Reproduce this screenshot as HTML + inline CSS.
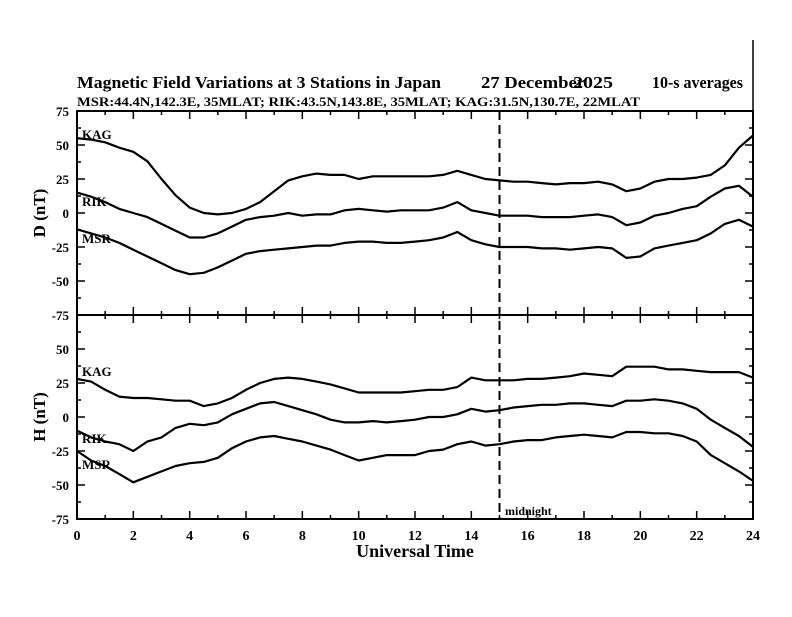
<!DOCTYPE html>
<html><head><meta charset="utf-8"><style>
body{margin:0;background:#fff}
svg text{font-family:"Liberation Serif",serif;font-weight:bold;fill:#000}
</style></head><body>
<svg id="c" width="792" height="612" viewBox="0 0 792 612">
<text x="77" y="88" font-size="17" textLength="364" lengthAdjust="spacingAndGlyphs" font-weight="normal">Magnetic Field Variations at 3 Stations in Japan</text>
<text x="481" y="88" font-size="17" textLength="104" lengthAdjust="spacingAndGlyphs" font-weight="normal">27 December</text>
<text x="573" y="88" font-size="17" textLength="40" lengthAdjust="spacingAndGlyphs" font-weight="normal">2025</text>
<text x="652" y="88" font-size="17" textLength="91" lengthAdjust="spacingAndGlyphs" font-weight="normal">10-s averages</text>
<text x="77" y="106" font-size="13" textLength="563" lengthAdjust="spacingAndGlyphs">MSR:44.4N,142.3E, 35MLAT;  RIK:43.5N,143.8E, 35MLAT;  KAG:31.5N,130.7E, 22MLAT</text>
<line x1="753" y1="40" x2="753" y2="111" stroke="#000" stroke-width="1.5"/>
<g id="axes"></g>
<g id="series"></g>
<text x="505" y="515" font-size="12">midnight</text>
<text x="415" y="557" font-size="18" text-anchor="middle" font-weight="normal">Universal Time</text>
<text transform="translate(45,213) rotate(-90)" font-size="17" text-anchor="middle" font-weight="normal">D (nT)</text>
<text transform="translate(45,417) rotate(-90)" font-size="17" text-anchor="middle" font-weight="normal">H (nT)</text>
</svg>
<script>
const hours=[0,0.5,1,1.5,2,2.5,3,3.5,4,4.5,5,5.5,6,6.5,7,7.5,8,8.5,9,9.5,10,10.5,11,11.5,12,12.5,13,13.5,14,14.5,15,15.5,16,16.5,17,17.5,18,18.5,19,19.5,20,20.5,21,21.5,22,22.5,23,23.5,24];
const kagD=[55,54,52,48,45,38,25,13,4,0,-1,0,3,8,16,24,27,29,28,28,25,27,27,27,27,27,28,31,28,25,24,23,23,22,21,22,22,23,21,16,18,23,25,25,26,28,35,48,57];
const rikD=[15,12,8,3,0,-3,-8,-13,-18,-18,-15,-10,-5,-3,-2,0,-2,-1,-1,2,3,2,1,2,2,2,4,8,2,0,-2,-2,-2,-3,-3,-3,-2,-1,-3,-9,-7,-2,0,3,5,12,18,20,12];
const msrD=[-12,-15,-18,-22,-27,-32,-37,-42,-45,-44,-40,-35,-30,-28,-27,-26,-25,-24,-24,-22,-21,-21,-22,-22,-21,-20,-18,-14,-20,-23,-25,-25,-25,-26,-26,-27,-26,-25,-26,-33,-32,-26,-24,-22,-20,-15,-8,-5,-10];
const kagH=[28,26,20,15,14,14,13,12,12,8,10,14,20,25,28,29,28,26,24,21,18,18,18,18,19,20,20,22,29,27,27,27,28,28,29,30,32,31,30,37,37,37,35,35,34,33,33,33,29];
const rikH=[-10,-15,-18,-20,-25,-18,-15,-8,-5,-6,-4,2,6,10,11,8,5,2,-2,-4,-4,-3,-4,-3,-2,0,0,2,6,4,5,7,8,9,9,10,10,9,8,12,12,13,12,10,6,-2,-8,-14,-22];
const msrH=[-25,-32,-36,-42,-48,-44,-40,-36,-34,-33,-30,-23,-18,-15,-14,-16,-18,-21,-24,-28,-32,-30,-28,-28,-28,-25,-24,-20,-18,-21,-20,-18,-17,-17,-15,-14,-13,-14,-15,-11,-11,-12,-12,-14,-18,-28,-34,-40,-47];
const xTicks=[0,2,4,6,8,10,12,14,16,18,20,22,24];
const yTicks=[75,50,25,0,-25,-50,-75];
const midnightHour=15;

const NS='http://www.w3.org/2000/svg';
const X0=77,X1=753;
const panels=[{top:111,bot:315},{top:315,bot:519}];
const x=h=>X0+(h/24)*(X1-X0);
const yf=p=>v=>p.top+(75-v)/150*(p.bot-p.top);
const ax=document.getElementById('axes'),se=document.getElementById('series');
function mk(tag,attrs,parent){const e=document.createElementNS(NS,tag);for(const k in attrs)e.setAttribute(k,attrs[k]);parent.appendChild(e);return e;}

panels.forEach((p,pi)=>{
  const y=yf(p);
  const fr=mk('rect',{x:X0,y:p.top,width:X1-X0,height:p.bot-p.top,fill:'none',stroke:'#000','stroke-width':2},ax);
  
  
  for(let h=0;h<=24;h++){
    const len=h%2?4:8;
    mk('line',{x1:x(h),y1:p.bot,x2:x(h),y2:p.bot-len,stroke:'#000','stroke-width':1.5},ax);
    mk('line',{x1:x(h),y1:p.top,x2:x(h),y2:p.top+len,stroke:'#000','stroke-width':1.5},ax);
  }
  for(let v=-75;v<=75;v+=12.5){
    const len=(v%25===0)?8:4;
    mk('line',{x1:X0,y1:y(v),x2:X0+len,y2:y(v),stroke:'#000','stroke-width':1.5},ax);
    mk('line',{x1:X1,y1:y(v),x2:X1-len,y2:y(v),stroke:'#000','stroke-width':1.5},ax);
  }
  yTicks.forEach(v=>{
    if(pi===1&&v===75)return;
    const t=mk('text',{x:X0-8,y:y(v)+5,'font-size':13,'text-anchor':'end'},ax);
    t.textContent=v;
    
    
  });
});
xTicks.forEach(h=>{
  const t=mk('text',{x:x(h),y:540,'font-size':14,'text-anchor':'middle','font-weight':'normal'},ax);
  t.textContent=h;
  
  
});
const ml=mk('line',{x1:x(midnightHour),y1:111,x2:x(midnightHour),y2:519,stroke:'#000','stroke-width':2,'stroke-dasharray':'9,5'},ax);



const series=[[kagD,0,'kag-d',139],[rikD,0,'rik-d',206],[msrD,0,'msr-d',243],[kagH,1,'kag-h',376],[rikH,1,'rik-h',443],[msrH,1,'msr-h',469]];
series.forEach(([vals,pi,name,ly])=>{
  const y=yf(panels[pi]);
  const d=vals.map((v,i)=>(i?'L':'M')+x(hours[i]).toFixed(1)+','+y(v).toFixed(1)).join('');
  const pa=mk('path',{d:d,fill:'none',stroke:'#000','stroke-width':2.2,'stroke-linejoin':'round'},se);
  
  
  const lt=mk('text',{x:82,y:ly,'font-size':13,'font-weight':'normal'},se);
  lt.textContent=name.slice(0,3).toUpperCase();
  
  
});
</script>
</body></html>
